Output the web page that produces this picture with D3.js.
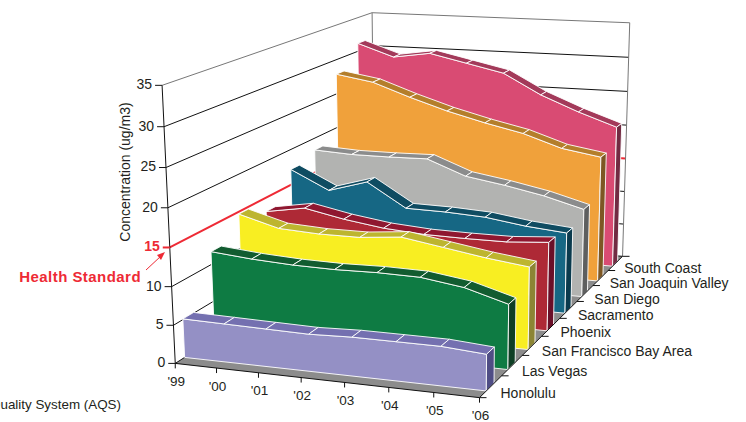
<!DOCTYPE html>
<html><head><meta charset="utf-8">
<script src="https://d3js.org/d3.v7.min.js"></script>
<style>body{margin:0;background:#fff}svg{display:block}text{font-family:"Liberation Sans",Arial,sans-serif;fill:#231f20}</style>
</head><body><svg id="c" width="746" height="422"></svg>
<script>
var years = ["'99","'00","'01","'02","'03","'04","'05","'06"];
var regions = ["Honolulu","Las Vegas","San Francisco Bay Area","Phoenix","Sacramento","San Diego","San Joaquin Valley","South Coast"];
var zTicks = [0,5,10,15,20,25,30,35];
var honolulu = [5.1,5.0,4.9,4.8,5.0,5.0,5.0,4.6];
var lasVegas = [11.7,11.2,10.9,10.8,10.9,10.8,10.0,8.4];
var sfBayArea = [14.7,13.2,12.9,12.9,13.4,12.5,11.6,10.9];
var phoenix = [13.1,14.0,12.9,12.1,11.7,11.6,11.6,12.0];
var sacramento = [17.2,14.6,16.2,12.9,12.8,12.5,11.7,11.2];
var sanDiego = [18.3,18.0,18.0,18.1,16.0,15.1,14.0,12.5];
var sanJoaquin = [27.9,27.0,25.1,23.4,22.0,20.8,19.0,18.1];
var southCoast = [31.2,29.4,30.2,29.0,27.8,24.9,22.7,20.8];
var values = [honolulu,lasVegas,sfBayArea,phoenix,sacramento,sanDiego,sanJoaquin,southCoast];
var healthStandard = 15;
var frontColors = ["#9490c5","#0e7b43","#f8ee22","#ae2936","#166784","#b2b3b1","#f0a13b","#d94b73"];
var topColors = ["#7470b0","#125c30","#bdb52f","#8f1730","#0f4c62","#8b8c8c","#b47e2b","#a33a5a"];
var sideColors = ["#4f4d85","#0e3f25","#8c8534","#6a0f28","#0a3a4d","#5e5f5f","#7d5724","#722a42"];
// where known corners of the box land on the page, used to fit the perspective
var calibration = [[0,0,0,175,361.5],[0,0,0,175,361.5],[0,0,0,175,361.5],[0,0,1,162,86],[0,0,1,162,86],[0,0,1,162,86],[1,0,0,480,399],[1,0,0,480,399],[1,0,0,480,399],[0,1,1,373,10],[0,1,0,375,241],[1,1,1,629,24],[1,1,0,622,253],[1,.5,0,560,317],[2/7,0,0,258,373.5]];

// least squares fit of a 3d to 2d projective matrix
function fit(pts){
  var n=11,A=[],b=[];
  pts.forEach(function(p){
    A.push([p[0],p[1],p[2],1,0,0,0,0,-p[3]*p[0],-p[3]*p[1],-p[3]*p[2]]);b.push(p[3]);
    A.push([0,0,0,0,p[0],p[1],p[2],1,-p[4]*p[0],-p[4]*p[1],-p[4]*p[2]]);b.push(p[4]);
  });
  var M=d3.range(n).map(function(i){
    var r=d3.range(n).map(function(j){return d3.sum(A,function(a){return a[i]*a[j];});});
    r.push(d3.sum(A,function(a,k){return a[i]*b[k];}));return r;});
  for(var i=0;i<n;i++){
    var m=i;for(var r=i;r<n;r++)if(Math.abs(M[r][i])>Math.abs(M[m][i]))m=r;
    var t=M[i];M[i]=M[m];M[m]=t;
    for(r=0;r<n;r++)if(r!=i){var f=M[r][i]/M[i][i];for(var c=i;c<=n;c++)M[r][c]-=f*M[i][c];}
  }
  return M.map(function(r,i){return r[n]/r[i];});
}
var P=fit(calibration);
var uS=d3.scaleLinear().domain([0,years.length-1]).range([0,1]),
    vS=d3.scaleLinear().domain([0,regions.length]).range([0,1]),
    zS=d3.scaleLinear().domain([0,35]).range([0,1]);
function proj(u,v,z){var a=uS(u),b=vS(v),c=zS(z),w=P[8]*a+P[9]*b+P[10]*c+1;
  return [(P[0]*a+P[1]*b+P[2]*c+P[3])/w,(P[4]*a+P[5]*b+P[6]*c+P[7])/w];}
var vFront=.3,vBack=.65,lastU=years.length-1,backV=regions.length;
var svg=d3.select("#c"),line=d3.line();
function poly(pts,fill,edge){return svg.append("path").attr("d",line(pts)+"Z").attr("fill",fill).attr("stroke",edge||"#fff").attr("stroke-width",.9).attr("stroke-linejoin","round");}
function seg(a,b,col,w){return svg.append("path").attr("d",line([a,b])).attr("stroke",col).attr("stroke-width",w||1).attr("fill","none");}
function label(x,y,s,size,anchor){return svg.append("text").attr("x",x).attr("y",y).attr("dy","0.35em").attr("font-size",size).attr("text-anchor",anchor||"start").text(s);}

// floor and walls
poly([proj(0,0,0),proj(lastU,0,0),proj(lastU,backV,0),proj(0,backV,0)],"#8c8c8c","none");
zTicks.forEach(function(z){
  var isTop=z==35,isStd=z==healthStandard,c=isTop?"#777":isStd?"#ee2a35":"#111",w=isStd?2:1;
  seg(proj(0,0,z),proj(0,backV,z),c,w);
  seg(proj(0,backV,z),proj(lastU,backV,z),c,w);
});
seg(proj(0,backV,35),proj(0,backV,0),"#777");
seg(proj(lastU,backV,35),proj(lastU,backV,0),"#777");

// ribbons, back to front
d3.range(regions.length).reverse().forEach(function(i){
  var f=values[i].map(function(z,k){return proj(k,i+vFront,z);}),
      bk=values[i].map(function(z,k){return proj(k,i+vBack,z);});
  poly(f.concat([proj(lastU,i+vFront,0),proj(0,i+vFront,0)]),frontColors[i]);
  for(var k=0;k<lastU;k++)poly([f[k],f[k+1],bk[k+1],bk[k]],topColors[i]);
  poly([f[lastU],bk[lastU],proj(lastU,i+vBack,0),proj(lastU,i+vFront,0)],sideColors[i]);
});

// axes
seg(proj(0,0,0),proj(0,0,35),"#111");
seg(proj(0,0,0),proj(lastU,0,0),"#111");
seg(proj(lastU,0,0),proj(lastU,backV,0),"#111");
zTicks.forEach(function(z){
  var p=proj(0,0,z),isStd=z==healthStandard,t=label(p[0]-10,p[1]-1,z,14,"end");
  seg([p[0]-7,p[1]],p,isStd?"#ee2a35":"#111",isStd?2:1);
  if(isStd)t.attr("font-weight","bold").style("fill","#ee2a35");
});
years.forEach(function(y,k){
  var p=proj(k,0,0);
  seg(p,[p[0],p[1]+5],"#111");
  label(p[0]+1,p[1]+18,y,13.5,"middle");
});
d3.range(regions.length+1).forEach(function(i){var p=proj(lastU,i,0);seg(p,[p[0]+7,p[1]],"#111");});
regions.forEach(function(r,i){
  var a=proj(lastU,i,0);
  label(a[0]+21-i*.7,a[1]-5+i*.43,r,14);
});
label(0,172,"Concentration (ug/m3)",14,"middle").attr("transform","translate(125,0) rotate(-90 0 172)");
label(141,277,"Health Standard",15,"end").attr("font-weight","bold").attr("letter-spacing",.45).style("fill","#ee2a35");
seg([146,270],[161,256],"#ee2a35",1);
svg.append("path").attr("d",line([[165,252],[157,255],[161,260]])+"Z").attr("fill","#ee2a35");
label(121,404,"Air Quality System (AQS)",13.4,"end");
</script></body></html>
